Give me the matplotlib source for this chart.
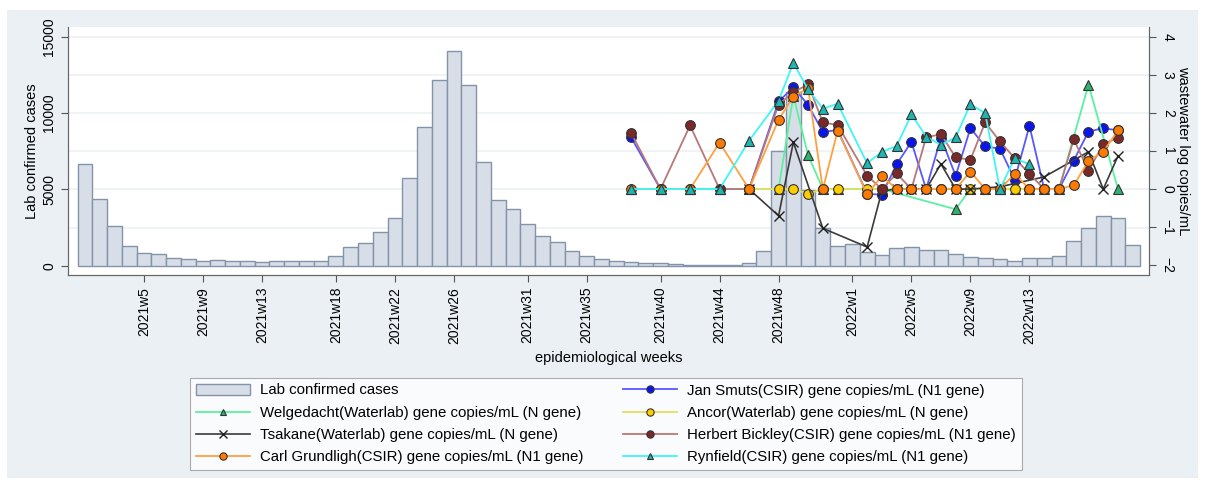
import numpy as np
import matplotlib.pyplot as plt
from matplotlib.patches import Rectangle

plt.rcParams['font.family'] = ['Liberation Sans', 'DejaVu Sans']

# weekly cases, 2021w1 .. 2022w20
weeks = [f"2021w{w}" for w in range(1, 53)] + [f"2022w{w}" for w in range(1, 21)]
cases = [6680, 4350, 2620, 1290, 850, 750, 520, 420, 310, 390,
         310, 280, 220, 280, 330, 330, 330, 615, 1225, 1490,
         2190, 3100, 5760, 9090, 12190, 14070, 11860, 6770, 4320, 3735,
         2730, 1925, 1570, 960, 635, 420, 310, 220, 155, 150,
         100, 50, 50, 50, 50, 150, 960, 7530, 11400, 4960,
         2500, 1300,
         1400, 880, 700, 1140, 1225, 1050, 1050, 765, 590, 505,
         420, 310, 485, 485, 655, 1640, 2450, 3255, 3145, 1375]

tick_labels = ["2021w5", "2021w9", "2021w13", "2021w18", "2021w22", "2021w26",
               "2021w31", "2021w35", "2021w40", "2021w44", "2021w48",
               "2022w1", "2022w5", "2022w9", "2022w13"]

# wastewater sampling weeks
ww_weeks = ["2021w38", "2021w40", "2021w42", "2021w44", "2021w46", "2021w48",
            "2021w49", "2021w50", "2021w51", "2021w52"] + [f"2022w{w}" for w in range(2, 20)]

nan = np.nan
welgedacht = [0, 0, 0, 0, 0, 0, 2.45, 0.89, 0, 0,
              0, 0, nan, nan, nan, nan, -0.53, 0, 0, 0, 0, 0, 0, 0, nan, 2.74, nan, 0]
tsakane = [nan, nan, nan, nan, 0, -0.70, 1.23, nan, -1.03, nan,
           -1.52, -0.05, 0, 0, 0, 0.66, 0, 0, nan, 0.06, nan, nan, 0.32, nan, nan, 0.98, 0, 0.87]
carl = [0, 0, 0, 1.22, 0, 1.82, 2.43, 2.65, 0, 1.53,
        -0.13, 0.34, 0, 0, 0, 0, 0, 0.46, 0, 0, 0.40, 0, 0, 0, 0.1, 0.74, 0.98, 1.54]
jan_smuts = [1.36, 0, 0, 0, 0, 2.3, 2.67, 2.21, 1.50, 1.55,
             -0.12, -0.15, 0.65, 1.24, 0, 1.35, 0.35, 1.6, 1.12, 1.06, 0.25, 1.66, 0, 0, 0.75, 1.51, 1.6, 1.54]
ancor = [nan, nan, nan, nan, 0, 0, 0, -0.12, 0, 0,
         0, 0, 0, 0, 0, 0, 0, 0, 0, 0, 0, 0, nan, nan, nan, nan, nan, nan]
herbert = [1.48, 0, 1.67, 0, 0, 2.22, 2.54, 2.75, 1.75, 1.68,
           0.35, 0, 0.41, 0, 1.36, 1.44, 0.83, 0.77, 1.75, 1.25, 0.81, 0.40, 0, 0, 1.31, 0.48, 1.18, 1.35]
rynfield = [0, 0, 0, 0, 1.27, 2.32, 3.31, 2.62, 2.11, 2.24,
            0.68, 0.98, 1.13, 1.96, 1.38, 1.16, 1.36, 2.23, 1.99, 0, 0.81, 0.65, nan, nan, nan, nan, nan, nan]

pos = {w: i for i, w in enumerate(weeks)}

fig = plt.figure(figsize=(12.05, 4.86), dpi=100)
fig.patches.append(Rectangle((7 / 1205, 1 - 478 / 486), 1191 / 1205, 468 / 486,
                             transform=fig.transFigure, facecolor='#eaf0f3', edgecolor='none', zorder=-10))

ax = fig.add_axes([68 / 1205, 1 - 275 / 486, 1081 / 1205, 248 / 486])
ax.set_facecolor('white')
x = np.arange(len(weeks))
# light gridlines (right axis ticks line up with every 2500 cases)
for v in [2500, 5000, 7500, 10000, 12500, 15000]:
    ax.axhline(v, color='#edf2f5', linewidth=1.3, zorder=0.5)
ax.bar(x, cases, width=1.0, color='#d8dee7', edgecolor='#8394aa', linewidth=1.0, zorder=2)
ax.set_xlim(-1.15, 72.1)
ax.set_ylim(-609, 15635)
ax.set_yticks([0, 5000, 10000, 15000])
ax.tick_params(axis='y', labelrotation=90, labelsize=10, length=5, color='#555555')
for lab in ax.get_yticklabels():
    lab.set_va('center')
ax.set_ylabel("Lab confirmed cases", fontsize=10.5, labelpad=2)
ax.set_xticks([pos[t] for t in tick_labels])
ax.set_xticklabels(tick_labels, rotation=90, fontsize=10)
ax.tick_params(axis='x', length=5, color='#555555')
ax.set_xlabel("epidemiological weeks", fontsize=10.5, labelpad=5)
ax.spines['top'].set_visible(False)
for s in ['left', 'bottom', 'right']:
    ax.spines[s].set_color('#666666')

ax2 = ax.twinx()
ax2.set_ylim(-2.255, 4.255)
ax2.set_yticks([-2, -1, 0, 1, 2, 3, 4])
ax2.tick_params(axis='y', labelrotation=-90, labelsize=10, length=5, color='#555555')
for lab in ax2.get_yticklabels():
    lab.set_va('center')
ax2.set_ylabel("wastewater log copies/mL", fontsize=10.5, rotation=-90, labelpad=11)
ax2.spines['top'].set_visible(False)
for s in ['left', 'bottom', 'right']:
    ax2.spines[s].set_color('#666666')
ax.set_zorder(0)
ax2.set_zorder(1)
ax2.patch.set_visible(False)

series = [
    ("Jan Smuts(CSIR) gene copies/mL (N1 gene)", jan_smuts, '#5858ff', 'o', '#0a14ee'),
    ("Welgedacht(Waterlab) gene copies/mL (N gene)", welgedacht, '#5cf0a0', '^', '#2db36b'),
    ("Ancor(Waterlab) gene copies/mL (N gene)", ancor, '#e0e060', 'o', '#ffcc00'),
    ("Tsakane(Waterlab) gene copies/mL (N gene)", tsakane, '#3a3a3a', 'x', '#222222'),
    ("Herbert Bickley(CSIR) gene copies/mL (N1 gene)", herbert, '#b87878', 'o', '#7a2828'),
    ("Carl Grundligh(CSIR) gene copies/mL (N1 gene)", carl, '#ffa040', 'o', '#ff7a00'),
    ("Rynfield(CSIR) gene copies/mL (N1 gene)", rynfield, '#40f5f5', '^', '#1fb5b0'),
]

handles = {}
for name, vals, lc, mk, fc in series:
    xs = [pos[w] for w, v in zip(ww_weeks, vals) if not np.isnan(v)]
    ys = [v for v in vals if not np.isnan(v)]
    if mk == 'x':
        h, = ax2.plot(xs, ys, color=lc, linewidth=1.2, marker='x', markersize=7,
                      markeredgecolor=fc, markeredgewidth=1.0)
    else:
        ms = 7 if mk == 'o' else 6.5
        h, = ax2.plot(xs, ys, color=lc, linewidth=1.3, marker=mk, markersize=ms,
                      markerfacecolor=fc, markeredgecolor='#333333', markeredgewidth=0.8)
    handles[name] = h

bar_handle = Rectangle((0, 0), 1, 1, facecolor='#d8dee7', edgecolor='#8394aa', linewidth=1.0)
order = ["Welgedacht(Waterlab) gene copies/mL (N gene)",
         "Tsakane(Waterlab) gene copies/mL (N gene)",
         "Carl Grundligh(CSIR) gene copies/mL (N1 gene)",
         "Jan Smuts(CSIR) gene copies/mL (N1 gene)",
         "Ancor(Waterlab) gene copies/mL (N gene)",
         "Herbert Bickley(CSIR) gene copies/mL (N1 gene)",
         "Rynfield(CSIR) gene copies/mL (N1 gene)"]
leg_h = [bar_handle] + [handles[n] for n in order]
leg_l = ["Lab confirmed cases"] + order
leg = fig.legend(leg_h, leg_l, ncol=2, loc='upper left',
                 bbox_to_anchor=(182 / 1205, 1 - 370 / 486), fontsize=10.8,
                 frameon=True, fancybox=False, edgecolor='#999999', handlelength=3.6,
                 handletextpad=0.7, columnspacing=2.6, labelspacing=0.55, borderpad=0.4,
                 markerscale=0.75)
leg.get_frame().set_linewidth(0.8)

fig.savefig("out.png", dpi=100, facecolor='white')
